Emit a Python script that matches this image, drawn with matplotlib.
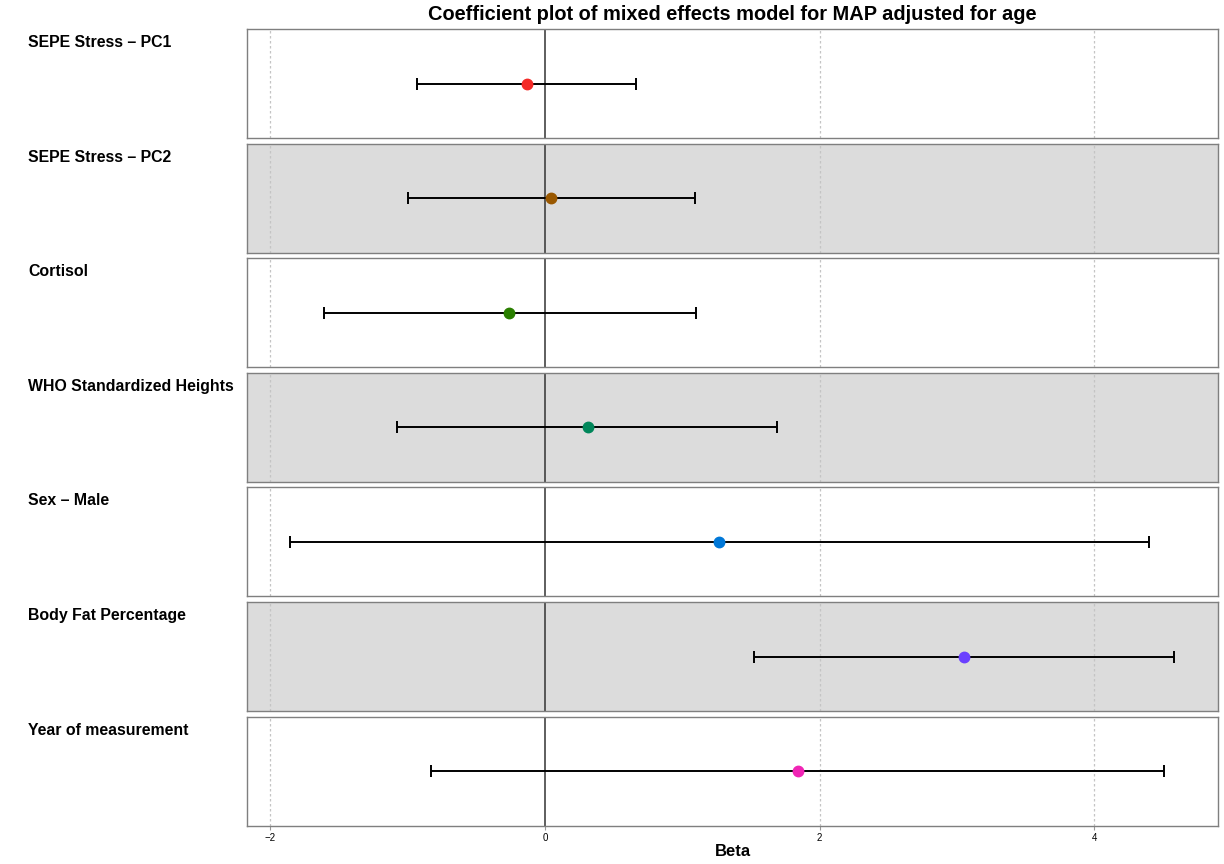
import numpy as np
import matplotlib
matplotlib.use('Agg')
import matplotlib.pyplot as plt

plt.rcParams['font.family'] = ['Liberation Sans', 'DejaVu Sans']

terms = ['SEPE Stress \u2013 PC1', 'SEPE Stress \u2013 PC2', 'Cortisol',
         'WHO Standardized Heights', 'Sex \u2013 Male', 'Body Fat Percentage',
         'Year of measurement']
beta = [-0.13, 0.04, -0.26, 0.31, 1.27, 3.05, 1.84]
lower = [-0.93, -1.00, -1.61, -1.08, -1.86, 1.52, -0.83]
upper = [0.66, 1.09, 1.10, 1.69, 4.40, 4.58, 4.51]
colors = ['#F42A27', '#9A5800', '#2A7F00', '#00865A', '#0078D8', '#6A40FF', '#F025B5']
xticks = [-2, 0, 2, 4]

W, H = 1224, 864
fig = plt.figure(figsize=(W / 100, H / 100), dpi=100)

left, right = 247, 1218
top0, ph, step = 29, 109, 114.6

for i, name in enumerate(terms):
    top = top0 + i * step
    ax = fig.add_axes([left / W, 1 - (top + ph) / H, (right - left) / W, ph / H])
    ax.set_facecolor('#DCDCDC' if i % 2 == 1 else 'white')
    ax.set_xlim(-2.17, 4.90)
    ax.set_ylim(-1, 1)
    for g in [-2, 2, 4]:
        ax.axvline(g, color='#C4C4C4', lw=0.9, ls=(0, (2, 2)), zorder=1)
    ax.axvline(0, color='#333333', lw=1.1, zorder=2)
    ax.errorbar([beta[i]], [0], xerr=[[beta[i] - lower[i]], [upper[i] - beta[i]]],
                fmt='none', ecolor='black', elinewidth=1.4, capsize=4.2,
                capthick=1.4, zorder=3)
    ax.plot([beta[i]], [0], 'o', color=colors[i], markersize=7.5, zorder=4)
    for s in ax.spines.values():
        s.set_color('#7F7F7F')
        s.set_linewidth(1.0)
    ax.set_yticks([])
    ax.set_xticks(xticks)
    if i == len(terms) - 1:
        ax.set_xticklabels([str(t).replace('-', '\u2212') for t in xticks], fontsize=7)
        ax.tick_params(axis='x', length=3, color='#999999', pad=2)
        ax.set_xlabel('Beta', fontsize=12, fontweight='bold', labelpad=1)
    else:
        ax.tick_params(axis='x', length=0, labelbottom=False)
    fig.text(28 / W, 1 - (top + 6) / H, name, fontsize=11.4, fontweight='bold',
             ha='left', va='top')

fig.text((left + right) / 2 / W, 1 - 15 / H,
         'Coefficient plot of mixed effects model for MAP adjusted for age',
         fontsize=14.4, fontweight='bold', ha='center', va='center')

fig.savefig('out.png', dpi=100)
